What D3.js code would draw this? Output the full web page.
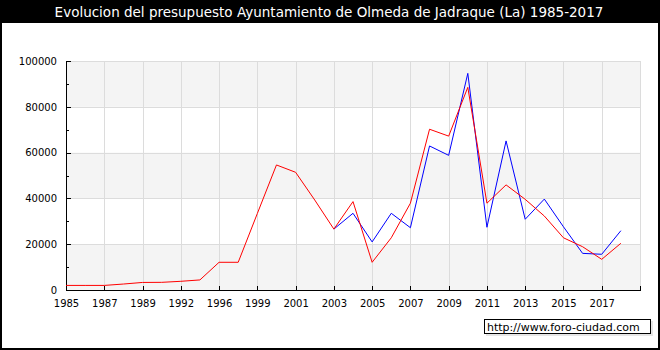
<!DOCTYPE html>
<html>
<head>
<meta charset="utf-8">
<script src="https://cdn.jsdelivr.net/npm/d3@7"></script>
<style>
  body { margin: 0; background: #000; }
  text { font-family: "DejaVu Sans", Verdana, sans-serif; }
</style>
</head>
<body>
<div id="chart-area"></div>
<script>
// years on the x axis (not evenly spaced in time, one slot each)
const years = ["1985", "1986", "1987", "1988", "1989", "1991", "1992", "1994", "1996", "1998",
               "1999", "2000", "2001", "2002", "2003", "2004", "2005", "2006", "2007", "2008",
               "2009", "2010", "2011", "2012", "2013", "2014", "2015", "2016", "2017", "2018"];

// red series
const gastos = [2000, 2000, 2000, 2600, 3300, 3350, 3800, 4400, 12100, 12100,
                33400, 54600, 51400, 39300, 26600, 38600, 12100, 22800, 37900, 70200,
                67200, 88500, 37900, 45900, 39600, 32300, 22800, 18900, 13400, 20400];

// blue series, starts in 2003
const ingresos = [null, null, null, null, null, null, null, null, null, null,
                  null, null, null, null, 26600, 33500, 21000, 33500, 27200, 62900,
                  58800, 94600, 27400, 65100, 30900, 39700, 27600, 16000, 15600, 25900];

const yTicks = [0, 20000, 40000, 60000, 80000, 100000];
const title = "Evolucion del presupuesto Ayuntamiento de Olmeda de Jadraque (La) 1985-2017";

const svgWidth = 660;
const svgHeight = 350;
const margin = { top: 61, right: 20, bottom: 60, left: 66 };
const width = svgWidth - margin.left - margin.right;
const height = svgHeight - margin.top - margin.bottom;

const svg = d3.select("#chart-area")
              .append("svg")
              .attr("width", svgWidth)
              .attr("height", svgHeight)
              .style("display", "block");

// frame + title bar
svg.append("rect")
   .attr("width", svgWidth).attr("height", svgHeight)
   .attr("fill", "#000");
svg.append("rect")
   .attr("x", 2).attr("y", 23)
   .attr("width", 656).attr("height", 325)
   .attr("fill", "#fff");
svg.append("text")
   .attr("x", svgWidth / 2 - 1)
   .attr("y", 17)
   .attr("text-anchor", "middle")
   .attr("fill", "#fff")
   .style("font-size", "13.5px")
   .text(title);

const g = svg.append("g")
             .attr("transform", `translate(${margin.left}, ${margin.top})`);

const x = d3.scaleLinear()
            .domain([0, years.length])
            .range([0, width]);

const y = d3.scaleLinear()
            .domain([0, 100000])
            .range([height, 0]);

// alternating bands
const bands = d3.pairs(yTicks).filter((d, i) => i % 2 === 0);
g.selectAll("rect.band")
 .data(bands)
 .enter()
 .append("rect")
   .attr("class", "band")
   .attr("x", 0)
   .attr("y", d => y(d[1]))
   .attr("width", width)
   .attr("height", d => y(d[0]) - y(d[1]))
   .attr("fill", "#f4f4f4");

const xTickIdx = d3.range(0, years.length + 1, 2);

// grid
g.selectAll("line.hgrid")
 .data(yTicks.slice(1))
 .enter()
 .append("line")
   .attr("x1", 0).attr("x2", width)
   .attr("y1", d => Math.round(y(d)) + 0.5)
   .attr("y2", d => Math.round(y(d)) + 0.5)
   .attr("stroke", "#dcdcdc");

g.selectAll("line.vgrid")
 .data(xTickIdx.slice(1))
 .enter()
 .append("line")
   .attr("x1", d => Math.round(x(d)) + 0.5)
   .attr("x2", d => Math.round(x(d)) + 0.5)
   .attr("y1", 0).attr("y2", height)
   .attr("stroke", "#dcdcdc");

// axes (ticks point inward)
const xAxisCall = d3.axisBottom(x)
                    .tickValues(xTickIdx)
                    .tickFormat(i => years[i] || "")
                    .tickSizeInner(-4)
                    .tickSizeOuter(0)
                    .tickPadding(10);

const yAxisCall = d3.axisLeft(y)
                    .tickValues(d3.range(0, 100001, 10000))
                    .tickFormat(d => d % 20000 === 0 ? d3.format("d")(d) : "")
                    .tickSizeInner(-5)
                    .tickSizeOuter(0)
                    .tickPadding(9);

const xAxis = g.append("g")
               .attr("class", "x-axis")
               .attr("transform", `translate(0, ${height})`)
               .call(xAxisCall);

const yAxis = g.append("g")
               .attr("class", "y-axis")
               .call(yAxisCall);

yAxis.selectAll(".tick line")
     .attr("x2", d => d % 20000 === 0 ? 5 : 3);

[xAxis, yAxis].forEach(a => {
  a.selectAll("path, line").attr("stroke", "#000").attr("shape-rendering", "crispEdges");
  a.selectAll("text").attr("fill", "#000").style("font-size", "10px");
});

// lines
const line = d3.line()
               .defined(d => d != null)
               .x((d, i) => x(i))
               .y(d => y(d));

g.append("path")
 .datum(ingresos)
 .attr("d", line)
 .attr("fill", "none")
 .attr("stroke", "#0000ff")
 .attr("stroke-width", 1);

g.append("path")
 .datum(gastos)
 .attr("d", line)
 .attr("fill", "none")
 .attr("stroke", "#ff0000")
 .attr("stroke-width", 1);

// credit box
svg.append("rect")
   .attr("x", 486).attr("y", 321)
   .attr("width", 167).attr("height", 15)
   .attr("fill", "#e6e6e6");
svg.append("rect")
   .attr("x", 484.5).attr("y", 319.5)
   .attr("width", 166).attr("height", 14)
   .attr("fill", "#fff")
   .attr("stroke", "#000");
svg.append("text")
   .attr("x", 487)
   .attr("y", 330.5)
   .style("font-size", "11px")
   .attr("fill", "#000")
   .text("http://www.foro-ciudad.com");
</script>
</body>
</html>
